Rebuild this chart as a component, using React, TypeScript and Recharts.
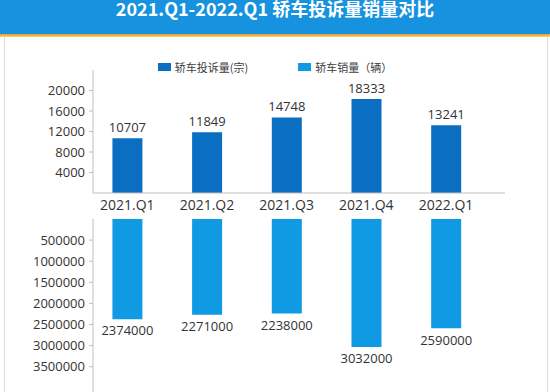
import React from 'react';
import { BarChart, Bar, XAxis, YAxis, LabelList, Legend } from 'recharts';

const categories = ['2021.Q1', '2021.Q2', '2021.Q3', '2021.Q4', '2022.Q1'];
const complaints = [10707, 11849, 14748, 18333, 13241];
const sales = [2374000, 2271000, 2238000, 3032000, 2590000];
const complaintTicks = [4000, 8000, 12000, 16000, 20000];
const salesTicks = [500000, 1000000, 1500000, 2000000, 2500000, 3000000, 3500000];

const TITLE = '2021.Q1-2022.Q1 轿车投诉量销量对比';
const COMPLAINT_NAME = '轿车投诉量(宗)';
const SALES_NAME = '轿车销量（辆）';

const DARK = '#0a6fc2';
const LIGHT = '#0f9ae3';
const AXIS = '#bfbfbf';
const TEXT = '#333333';
const FONT = "'Open Sans', 'Noto Sans CJK SC', sans-serif";

const data = categories.map((c, i) => ({ idx: i, name: c, complaints: complaints[i], sales: sales[i] }));

const X_DOMAIN: [number, number] = [-0.43, 4.74];

const LegendContent = () => (
  <div style={{ display: 'flex', justifyContent: 'center', gap: 50, fontFamily: "'Noto Sans CJK SC', sans-serif", fontSize: 11, color: '#404040' }}>
    <div style={{ display: 'flex', alignItems: 'center' }}>
      <span style={{ display: 'inline-block', width: 13, height: 8, background: DARK, marginRight: 4 }} />
      <span>{COMPLAINT_NAME}</span>
    </div>
    <div style={{ display: 'flex', alignItems: 'center' }}>
      <span style={{ display: 'inline-block', width: 13, height: 8, background: LIGHT, marginRight: 4 }} />
      <span>{SALES_NAME}</span>
    </div>
  </div>
);

export default function App() {
  return (
    <div style={{ position: 'absolute', left: 0, top: 0, width: 550, height: 392, background: '#ffffff', overflow: 'hidden', fontFamily: FONT }}>
      <div style={{ position: 'absolute', left: 4, top: 34, width: 544, height: 358, borderLeft: '1px solid #dcdcdc', borderRight: '1px solid #dcdcdc', boxSizing: 'border-box' }} />
      <div style={{ position: 'absolute', left: 0, top: 0, width: 550, height: 34, background: '#1692df' }} />
      <div style={{ position: 'absolute', left: 0, top: 34, width: 550, height: 3, background: 'linear-gradient(#e8962a, #f6d37a)' }} />
      <div style={{ position: 'absolute', left: 0, top: -4, width: 550, textAlign: 'center', color: '#ffffff', fontWeight: 700, fontSize: 18, fontFamily: "'Noto Sans CJK SC', sans-serif", lineHeight: '24px' }}>
        {TITLE}
      </div>

      <div style={{ position: 'absolute', left: 0, top: 0 }}>
        <BarChart width={550} height={218} data={data} margin={{ top: 70, right: 45, bottom: 0, left: 0 }}>
          <XAxis
            dataKey="idx"
            type="number"
            domain={X_DOMAIN}
            ticks={[0, 1, 2, 3, 4]}
            tickFormatter={(v: number) => categories[v]}
            height={25}
            tickLine={false}
            tickSize={0}
            tickMargin={7}
            axisLine={{ stroke: AXIS }}
            tick={{ fill: TEXT, fontSize: 14, fontFamily: FONT }}
            allowDataOverflow
          />
          <YAxis
            width={93}
            domain={[0, 24000]}
            ticks={complaintTicks}
            tickSize={4}
            tickMargin={4}
            tickLine={{ stroke: AXIS }}
            axisLine={{ stroke: AXIS }}
            tick={{ fill: TEXT, fontSize: 13, fontFamily: FONT }}
            interval={0}
          />
          <Legend verticalAlign="middle" align="center" layout="horizontal" content={<LegendContent />} wrapperStyle={{ top: 59, left: 0, width: 550 }} />
          <Bar dataKey="complaints" name={COMPLAINT_NAME} fill={DARK} barSize={30} isAnimationActive={false}>
            <LabelList dataKey="complaints" position="top" offset={6} fill={TEXT} fontSize={13} fontFamily={FONT} />
          </Bar>
        </BarChart>
      </div>

      <div style={{ position: 'absolute', left: 0, top: 218 }}>
        <BarChart width={550} height={174} data={data} margin={{ top: 1, right: 45, bottom: 0, left: 0 }}>
          <XAxis
            dataKey="idx"
            type="number"
            orientation="top"
            domain={X_DOMAIN}
            ticks={[0, 1, 2, 3, 4]}
            height={0}
            tick={false}
            tickLine={false}
            axisLine={{ stroke: AXIS }}
            allowDataOverflow
          />
          <YAxis
            width={93}
            reversed
            domain={[0, 4100000]}
            ticks={salesTicks}
            tickSize={4}
            tickMargin={4}
            tickLine={{ stroke: AXIS }}
            axisLine={{ stroke: AXIS }}
            tick={{ fill: TEXT, fontSize: 13, fontFamily: FONT }}
            interval={0}
          />
          <Bar dataKey="sales" name={SALES_NAME} fill={LIGHT} barSize={30} isAnimationActive={false}>
            <LabelList dataKey="sales" position="top" offset={7} fill={TEXT} fontSize={13} fontFamily={FONT} />
          </Bar>
        </BarChart>
      </div>
    </div>
  );
}
